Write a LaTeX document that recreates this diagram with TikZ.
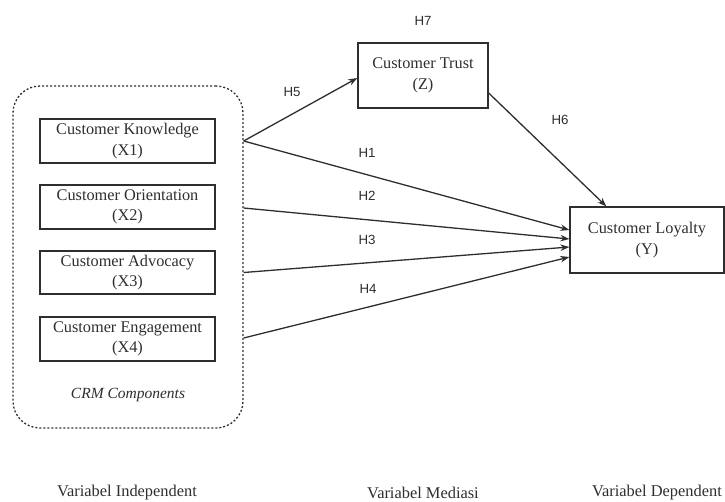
\documentclass[tikz,border=0pt]{standalone}
\usepackage{fontspec}
\setmainfont{Liberation Serif}
\newfontfamily\hfont{Liberation Sans}
\usetikzlibrary{arrows.meta,calc}
\definecolor{ink}{HTML}{2E2E2E}
\begin{document}
\begin{tikzpicture}[x=1pt,y=-1pt,
  box/.style={draw=ink, line width=1.3pt, align=center, inner sep=0pt,
    font=\fontsize{16.3}{20.5}\selectfont, text=ink},
  hl/.style={font=\hfont\fontsize{13.3}{15}\selectfont, text=ink},
  foot/.style={font=\fontsize{16.4}{19}\selectfont, text=ink, inner sep=0pt},
  arr/.style={draw=ink, line width=1.3pt, -{Stealth[length=9pt,width=6.5pt]}}]
\useasboundingbox (0,0) rectangle (725,501);

% CRM group
\node[draw=ink, line width=1.3pt, dash pattern=on 2pt off 2pt, rounded corners=27pt,
      minimum width=230pt, minimum height=342pt, inner sep=0pt] (crm) at (128,257) {};

\node[box, minimum width=175pt, minimum height=44pt] (x1) at (127.5,141) {Customer Knowledge\\(X1)};
\node[box, minimum width=175pt, minimum height=44pt] (x2) at (127.5,207) {Customer Orientation\\(X2)};
\node[box, minimum width=175pt, minimum height=43pt] (x3) at (127.5,272.5) {Customer Advocacy\\(X3)};
\node[box, minimum width=175pt, minimum height=44pt] (x4) at (127.5,339) {Customer Engagement\\(X4)};
\node[text=ink, font=\itshape\fontsize{15.5}{18}\selectfont] (crmlab) at (128,395) {CRM Components};

\node[box, minimum width=130pt, minimum height=65pt] (tr) at (423,75.5) {Customer Trust\\(Z)};
\node[box, minimum width=154pt, minimum height=66pt] (ly) at (647,240) {Customer Loyalty\\(Y)};

% connector end points
\coordinate (s1) at (crm.east |- x1);
\coordinate (s2) at ($(crm.east |- x2)+(0,1)$);
\coordinate (s3) at (crm.east |- x3);
\coordinate (s4) at ($(crm.east |- x4)+(0,-1)$);
\coordinate (e1) at ($(ly.west)+(0,-10)$);
\coordinate (e2) at ($(ly.west)+(0,-1)$);
\coordinate (e3) at ($(ly.west)+(0,7)$);
\coordinate (e4) at ($(ly.west)+(0,17)$);
\coordinate (t5) at ($(tr.west)+(0,2.5)$);
\coordinate (t6) at ($(tr.east)+(0,17.5)$);
\coordinate (e6) at ($(ly.north west)+(37,0)$);

\draw[arr] (s1) -- (t5);
\draw[arr] (s1) -- (e1);
\draw[arr] (s2) -- (e2);
\draw[arr] (s3) -- (e3);
\draw[arr] (s4) -- (e4);
\draw[arr] (t6) -- (e6);

% hypothesis labels
\node[hl] (h5) at (292,92) {H5};
\node[hl] (h1) at (367,153) {H1};
\node[hl] (h2) at (367,196) {H2};
\node[hl] (h3) at (367,240) {H3};
\node[hl] (h4) at (368,289) {H4};
\node[hl] (h6) at (560,120) {H6};
\node[hl] (h7) at (423,21) {H7};

% footer
\node[foot] (f1) at (127,492.5) {Variabel Independent};
\node[foot] (f2) at (423,492.5) {Variabel Mediasi};
\node[foot] (f3) at (657,492.5) {Variabel Dependent};
\end{tikzpicture}
\end{document}
